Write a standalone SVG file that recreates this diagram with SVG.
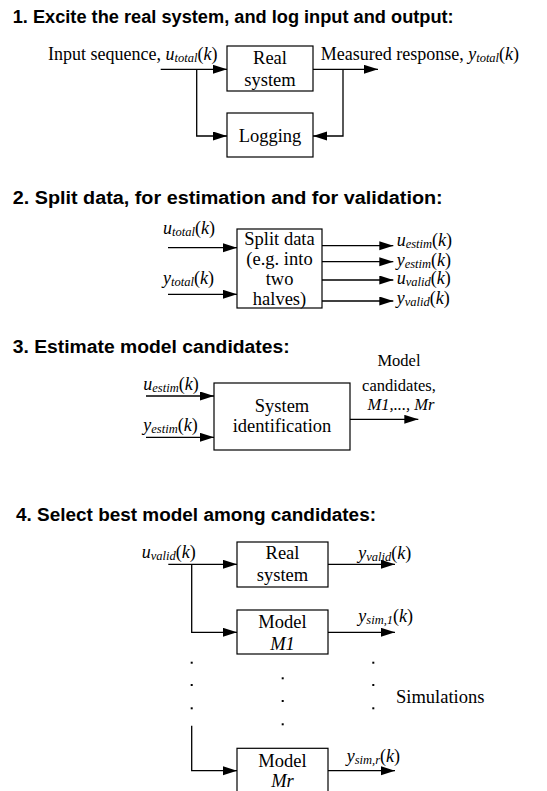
<svg xmlns="http://www.w3.org/2000/svg" width="547" height="791" viewBox="0 0 547 791">
<style>
.title{font-family:"Liberation Sans",Arial,sans-serif;font-weight:bold;font-size:17.5px;fill:#000}
.t{font-family:"Liberation Serif","Times New Roman",serif;font-size:18.5px;fill:#000}
.s{font-size:16.5px}
.lab{font-size:18px}
.c{text-anchor:middle}
.i{font-style:italic}
.sub{font-style:italic;font-size:12.5px}
.box{fill:#fff;stroke:#000;stroke-width:1.2}
.ln{fill:none;stroke:#000;stroke-width:1.3}
.dot{fill:#000}
</style>
<defs>
<marker id="ah" markerUnits="userSpaceOnUse" markerWidth="15" markerHeight="10" refX="14" refY="4.5" orient="auto">
<path d="M0,0 L14,4.5 L0,9 z" fill="#000"/>
</marker>
</defs>
<rect width="547" height="791" fill="#fff"/>

<!-- Titles -->
<g id="titles">
<text class="title" x="12.7" y="23" textLength="441" lengthAdjust="spacingAndGlyphs">1. Excite the real system, and log input and output:</text>
<text class="title" x="12.7" y="204" textLength="430" lengthAdjust="spacingAndGlyphs">2. Split data, for estimation and for validation:</text>
<text class="title" x="12.7" y="353" textLength="277" lengthAdjust="spacingAndGlyphs">3. Estimate model candidates:</text>
<text class="title" x="16" y="521" textLength="360" lengthAdjust="spacingAndGlyphs">4. Select best model among candidates:</text>
</g>

<!-- Section 1 -->
<g id="s1-real">
<rect class="box" x="227" y="46" width="86" height="45"/>
<text class="t c" x="270" y="63.5">Real</text>
<text class="t c" x="270" y="86">system</text>
</g>
<g id="s1-logging">
<rect class="box" x="227" y="113" width="86" height="44"/>
<text class="t c" x="270" y="141.5">Logging</text>
</g>
<g id="s1-labels">
<text class="t lab" x="48" y="60">Input sequence, <tspan class="i">u</tspan><tspan class="sub" dy="2">total</tspan><tspan dy="-2">(</tspan><tspan class="i">k</tspan>)</text>
<text class="t lab" x="320.7" y="60">Measured response, <tspan class="i">y</tspan><tspan class="sub" dy="2">total</tspan><tspan dy="-2">(</tspan><tspan class="i">k</tspan>)</text>
</g>

<!-- Section 2 -->
<g id="s2-split">
<rect class="box" x="237" y="229" width="85" height="79"/>
<text class="t c" x="279.5" y="245">Split data</text>
<text class="t c" x="279.5" y="265">(e.g. into</text>
<text class="t c" x="279.5" y="285">two</text>
<text class="t c" x="279.5" y="305">halves)</text>
</g>
<g id="s2-labels">
<text class="t lab" x="163" y="234"><tspan class="i">u</tspan><tspan class="sub" dy="2">total</tspan><tspan dy="-2">(</tspan><tspan class="i">k</tspan>)</text>
<text class="t lab" x="163" y="284"><tspan class="i">y</tspan><tspan class="sub" dy="2">total</tspan><tspan dy="-2">(</tspan><tspan class="i">k</tspan>)</text>
<text class="t lab" x="396.7" y="246"><tspan class="i">u</tspan><tspan class="sub" dy="2">estim</tspan><tspan dy="-2">(</tspan><tspan class="i">k</tspan>)</text>
<text class="t lab" x="396.7" y="265.5"><tspan class="i">y</tspan><tspan class="sub" dy="2">estim</tspan><tspan dy="-2">(</tspan><tspan class="i">k</tspan>)</text>
<text class="t lab" x="396.7" y="284"><tspan class="i">u</tspan><tspan class="sub" dy="2">valid</tspan><tspan dy="-2">(</tspan><tspan class="i">k</tspan>)</text>
<text class="t lab" x="396.7" y="304"><tspan class="i">y</tspan><tspan class="sub" dy="2">valid</tspan><tspan dy="-2">(</tspan><tspan class="i">k</tspan>)</text>
</g>

<!-- Section 3 -->
<g id="s3-sysid">
<rect class="box" x="214" y="383" width="136" height="67"/>
<text class="t c" x="282" y="411.7">System</text>
<text class="t c" x="282" y="431.7">identification</text>
</g>
<g id="s3-labels">
<text class="t lab" x="143.3" y="390"><tspan class="i">u</tspan><tspan class="sub" dy="2">estim</tspan><tspan dy="-2">(</tspan><tspan class="i">k</tspan>)</text>
<text class="t lab" x="143.3" y="431"><tspan class="i">y</tspan><tspan class="sub" dy="2">estim</tspan><tspan dy="-2">(</tspan><tspan class="i">k</tspan>)</text>
<text class="t s c" x="399" y="366">Model</text>
<text class="t s c" x="399" y="391">candidates,</text>
<text class="t s c i" x="401" y="410">M1,..., Mr</text>
</g>

<!-- Section 4 -->
<g id="s4-real">
<rect class="box" x="237" y="542" width="91" height="45"/>
<text class="t c" x="282.5" y="559">Real</text>
<text class="t c" x="282.5" y="580.5">system</text>
</g>
<g id="s4-m1">
<rect class="box" x="237" y="610" width="91" height="44"/>
<text class="t c" x="282.5" y="628">Model</text>
<text class="t c i" x="282.5" y="650">M1</text>
</g>
<g id="s4-mr">
<rect class="box" x="237" y="748.3" width="91" height="50"/>
<text class="t c" x="282.5" y="766.5">Model</text>
<text class="t c i" x="282.5" y="787">Mr</text>
</g>
<g id="s4-labels">
<text class="t lab" x="141.7" y="558"><tspan class="i">u</tspan><tspan class="sub" dy="2">valid</tspan><tspan dy="-2">(</tspan><tspan class="i">k</tspan>)</text>
<text class="t lab" x="358.3" y="559"><tspan class="i">y</tspan><tspan class="sub" dy="2">valid</tspan><tspan dy="-2">(</tspan><tspan class="i">k</tspan>)</text>
<text class="t lab" x="358.3" y="622"><tspan class="i">y</tspan><tspan class="sub" dy="2">sim,1</tspan><tspan dy="-2">(</tspan><tspan class="i">k</tspan>)</text>
<text class="t lab" x="346.7" y="761.7"><tspan class="i">y</tspan><tspan class="sub" dy="2">sim,r</tspan><tspan dy="-2">(</tspan><tspan class="i">k</tspan>)</text>
<text class="t" x="396" y="702.7">Simulations</text>
</g>
<g id="s4-dots">
<rect class="dot" x="190.7" y="661.7" width="2" height="2"/>
<rect class="dot" x="190.7" y="684" width="2" height="2"/>
<rect class="dot" x="190.7" y="707.3" width="2" height="2"/>
<rect class="dot" x="281.7" y="677.3" width="2" height="2"/>
<rect class="dot" x="281.7" y="700" width="2" height="2"/>
<rect class="dot" x="281.7" y="723.3" width="2" height="2"/>
<rect class="dot" x="372.3" y="661.7" width="2" height="2"/>
<rect class="dot" x="372.3" y="684" width="2" height="2"/>
<rect class="dot" x="372.3" y="707.3" width="2" height="2"/>
</g>

<!-- Connectors -->
<g id="connectors">
<line class="ln" x1="160.7" y1="69.3" x2="227" y2="69.3" marker-end="url(#ah)"/>
<path class="ln" d="M196.7,69.3 V136 H227" marker-end="url(#ah)"/>
<line class="ln" x1="313" y1="69.3" x2="378" y2="69.3" marker-end="url(#ah)"/>
<path class="ln" d="M343,69.3 V136 H313" marker-end="url(#ah)"/>

<line class="ln" x1="168" y1="247.7" x2="237" y2="247.7" marker-end="url(#ah)"/>
<line class="ln" x1="168" y1="294.3" x2="237" y2="294.3" marker-end="url(#ah)"/>
<line class="ln" x1="322" y1="245.7" x2="393.3" y2="245.7" marker-end="url(#ah)"/>
<line class="ln" x1="322" y1="261.7" x2="393.3" y2="261.7" marker-end="url(#ah)"/>
<line class="ln" x1="322" y1="280" x2="393.3" y2="280" marker-end="url(#ah)"/>
<line class="ln" x1="322" y1="301" x2="393.3" y2="301" marker-end="url(#ah)"/>

<line class="ln" x1="146" y1="396" x2="214" y2="396" marker-end="url(#ah)"/>
<line class="ln" x1="146" y1="437.3" x2="214" y2="437.3" marker-end="url(#ah)"/>
<line class="ln" x1="350" y1="419.3" x2="418.3" y2="419.3" marker-end="url(#ah)"/>

<line class="ln" x1="168.3" y1="564.3" x2="237" y2="564.3" marker-end="url(#ah)"/>
<path class="ln" d="M191.7,564.3 V632.3 H237" marker-end="url(#ah)"/>
<path class="ln" d="M191.7,725.7 V770.7 H237" marker-end="url(#ah)"/>
<line class="ln" x1="328" y1="564.3" x2="395" y2="564.3" marker-end="url(#ah)"/>
<line class="ln" x1="328" y1="632.3" x2="395" y2="632.3" marker-end="url(#ah)"/>
<line class="ln" x1="328" y1="770.7" x2="395" y2="770.7" marker-end="url(#ah)"/>
</g>
</svg>
